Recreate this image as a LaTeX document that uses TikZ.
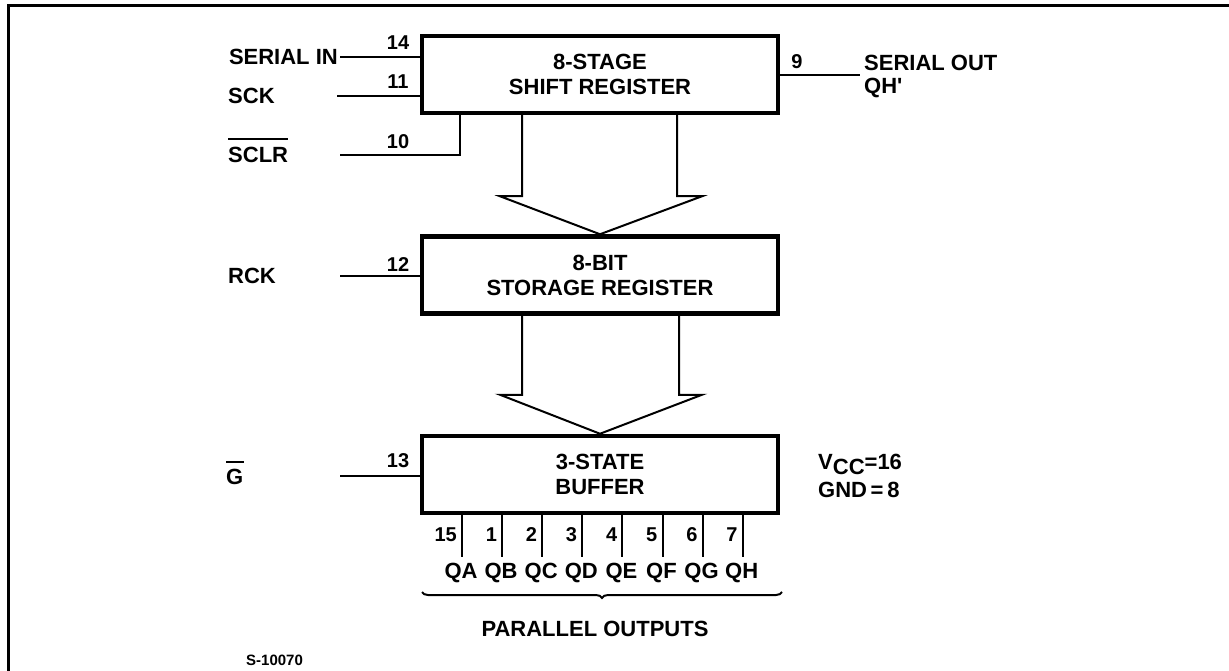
\documentclass[tikz,border=0pt]{standalone}
\usepackage{fontspec}
\setmainfont{Liberation Sans}
\usetikzlibrary{decorations.pathreplacing}
\begin{document}
\begin{tikzpicture}[x=1pt,y=-1pt,
  blk/.style={draw, line width=4.5pt, minimum width=356pt, minimum height=77pt, inner sep=0pt, align=center, font=\fontsize{22}{25}\selectfont\bfseries},
  wire/.style={line width=2pt},
  bar/.style={line width=1.6pt},
  lbl/.style={inner sep=0pt, font=\fontsize{22}{25}\selectfont\bfseries},
  pinno/.style={inner sep=0pt, font=\fontsize{20}{22}\selectfont\bfseries},
  small/.style={inner sep=0pt, font=\fontsize{15}{17}\selectfont\bfseries},
  frame/.style={line width=3pt}]
\useasboundingbox (0,0) rectangle (1229,671);
\draw[frame] (8,671) -- (8,6) -- (1229,6);

% blocks
\node[blk] (sr) at (600,74.5) {8-STAGE\\SHIFT REGISTER};
\node[blk] (st) at (600,275) {8-BIT\\STORAGE REGISTER};
\node[blk] (bf) at (600,474.5) {3-STATE\\BUFFER};

% SERIAL IN
\coordinate (wSI) at (340,57);
\draw[wire] (wSI) -- (wSI -| sr.west);
\node[lbl, anchor=east] (tSI) at (338,57) {SERIAL IN};
\node[pinno] (n14) at (398,43) {14};
% SCK
\coordinate (wSCK) at (337,96);
\draw[wire] (wSCK) -- (wSCK -| sr.west);
\node[lbl, anchor=west] (tSCK) at (228,96) {SCK};
\node[pinno] (n11) at (398,82) {11};
% SCLR
\coordinate (wCLR) at (340,155);
\coordinate (jCLR) at (460,155);
\draw[wire] (wCLR) -- (jCLR) -- (jCLR |- sr.south);
\node[lbl, anchor=west] (tCLR) at (228,155) {SCLR};
\draw[bar] ([yshift=8pt]tCLR.north west) -- ([yshift=8pt]tCLR.north east);
\node[pinno] (n10) at (398,142) {10};
% RCK
\coordinate (wRCK) at (340,276);
\draw[wire] (wRCK) -- (wRCK -| st.west);
\node[lbl, anchor=west] (tRCK) at (228,276) {RCK};
\node[pinno] (n12) at (398,265) {12};
% G
\coordinate (wG) at (340,476);
\draw[wire] (wG) -- (wG -| bf.west);
\node[lbl, anchor=west] (tG) at (226,477) {G};
\draw[bar] ([yshift=7pt]tG.north west) -- ([yshift=7pt]tG.north east);
\node[pinno] (n13) at (398,461) {13};
% SERIAL OUT
\coordinate (wSO) at (860,75);
\draw[wire] (wSO -| sr.east) -- (wSO);
\node[pinno] (n9) at (797,62) {9};
\node[lbl, anchor=west] (tSO) at (864,63) {SERIAL OUT};
\node[lbl, anchor=west] (tQH) at (864,88) {QH\textquotesingle};

% wide arrows
\draw[wire] ([xshift=-78pt]sr.south) -- ([xshift=-78pt,yshift=38pt]st.north) -- ([xshift=-100pt,yshift=38pt]st.north) -- (st.north) -- ([xshift=102pt,yshift=38pt]st.north) -- ([xshift=77pt,yshift=38pt]st.north) -- ([xshift=77pt]sr.south);
\draw[wire] ([xshift=-78pt]st.south) -- ([xshift=-78pt,yshift=39pt]bf.north) -- ([xshift=-100pt,yshift=39pt]bf.north) -- (bf.north) -- ([xshift=102pt,yshift=39pt]bf.north) -- ([xshift=79pt,yshift=39pt]bf.north) -- ([xshift=79pt]st.south);

% outputs
\foreach \n/\q [count=\k from 0] in {15/QA,1/QB,2/QC,3/QD,4/QE,5/QF,6/QG,7/QH} {
  \coordinate (o\k) at ({462+40.1*\k},557);
  \draw[wire] (o\k |- bf.south) -- (o\k);
  \node[pinno, anchor=east] (pn\k) at ({457+40.1*\k},535) {\n};
  \node[lbl] (q\k) at ({461+40.1*\k},573) {\q};
}
\coordinate (bl) at (422,592);
\coordinate (br) at (782,592);
\draw[wire, decorate, decoration={brace, mirror, amplitude=6pt}] (bl) -- (br);
\node[lbl] (po) at (595,629) {PARALLEL OUTPUTS};

% supply
\node[lbl, anchor=west] (vcc) at (818,464) {V\raisebox{-5pt}{CC}=16};
\node[lbl, anchor=west] (gnd) at (818,490) {GND\,=\,8};

\node[small, anchor=west] (ref) at (246,660) {S-10070};
\end{tikzpicture}
\end{document}
